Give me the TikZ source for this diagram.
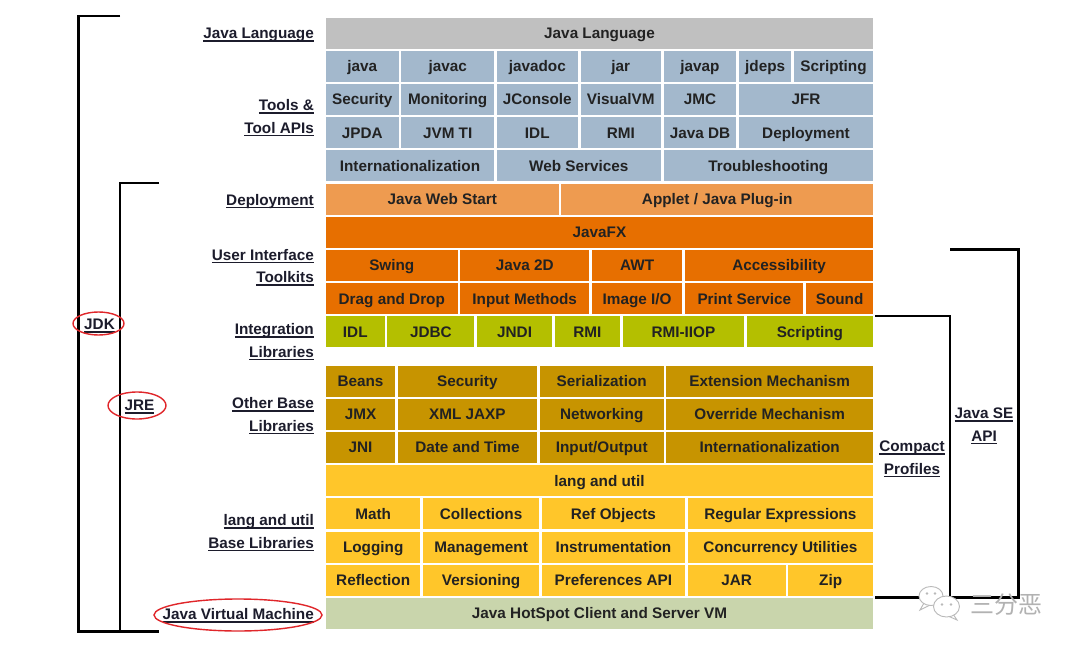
\documentclass[tikz,border=0pt]{standalone}
\usepackage{fontspec}
\setmainfont{Liberation Sans}
\newfontfamily\cjk{Noto Sans CJK SC}
\definecolor{jlang}{HTML}{C0C0C0}
\definecolor{tool}{HTML}{A3B8CC}
\definecolor{deploy}{HTML}{EE9B50}
\definecolor{fx}{HTML}{E76F00}
\definecolor{integ}{HTML}{B4BF00}
\definecolor{other}{HTML}{C79400}
\definecolor{langutil}{HTML}{FFC62A}
\definecolor{jvm}{HTML}{C9D5AC}
\definecolor{txt}{HTML}{222222}
\definecolor{lbl}{HTML}{1C1C2C}
\definecolor{ovalred}{HTML}{E0262A}
\newcommand\cellfont{\bfseries\fontsize{15.3}{18}\selectfont}
\newcommand\ulx[1]{\leavevmode\setbox0\hbox{#1}\rlap{\rule[-3pt]{\wd0}{1.3pt}}\box0}
\newcommand\cb[6]{\node[cell,fill=#4,minimum width={#2-#1}] (#5) at ({(#1+#2)/2},#3) {#6};}
\begin{document}
\begin{tikzpicture}[x=1pt,y=-1pt,
  cell/.style={inner sep=0pt,minimum height=31pt,text=txt,font=\cellfont,text height=11pt,text depth=0pt},
  lab/.style={anchor=east,inner sep=0pt,text=lbl,font=\cellfont,text height=11pt,text depth=0pt},
  clab/.style={inner sep=0pt,text=lbl,font=\cellfont,text height=11pt,text depth=0pt},
  brk/.style={line width=2.5pt,black},
  oval/.style={draw=ovalred,line width=1.4pt},
  wm/.style={draw=gray!55,fill=white,line width=0.9pt}]
\useasboundingbox (0,0) rectangle (1080,653);
\fill[white] (0,0) rectangle (1080,653);
% row 0
\cb{326}{873}{33}{jlang}{c00}{Java Language}
% row 1
\cb{326}{398.6}{66.2}{tool}{c10}{java}
\cb{401.4}{494}{66.2}{tool}{c11}{javac}
\cb{496.6}{578}{66.2}{tool}{c12}{javadoc}
\cb{580.6}{661}{66.2}{tool}{c13}{jar}
\cb{663.6}{736.4}{66.2}{tool}{c14}{javap}
\cb{739}{791.4}{66.2}{tool}{c15}{jdeps}
\cb{794}{873}{66.2}{tool}{c16}{Scripting}
% row 2
\cb{326}{398.6}{99.4}{tool}{c20}{Security}
\cb{401.4}{494}{99.4}{tool}{c21}{Monitoring}
\cb{496.6}{578}{99.4}{tool}{c22}{JConsole}
\cb{580.6}{661}{99.4}{tool}{c23}{VisualVM}
\cb{663.6}{736.4}{99.4}{tool}{c24}{JMC}
\cb{739}{873}{99.4}{tool}{c25}{JFR}
% row 3
\cb{326}{398.6}{132.6}{tool}{c30}{JPDA}
\cb{401.4}{494}{132.6}{tool}{c31}{JVM TI}
\cb{496.6}{578}{132.6}{tool}{c32}{IDL}
\cb{580.6}{661}{132.6}{tool}{c33}{RMI}
\cb{663.6}{736.4}{132.6}{tool}{c34}{Java DB}
\cb{739}{873}{132.6}{tool}{c35}{Deployment}
% row 4
\cb{326}{494}{165.8}{tool}{c40}{Internationalization}
\cb{496.6}{661}{165.8}{tool}{c41}{Web Services}
\cb{663.6}{873}{165.8}{tool}{c42}{Troubleshooting}
% row 5
\cb{326}{558.6}{199}{deploy}{c50}{Java Web Start}
\cb{561.4}{873}{199}{deploy}{c51}{Applet / Java Plug-in}
% row 6
\cb{326}{873}{232.2}{fx}{c60}{JavaFX}
% row 7
\cb{326}{457.6}{265.4}{fx}{c70}{Swing}
\cb{460.4}{589}{265.4}{fx}{c71}{Java 2D}
\cb{591.8}{682.4}{265.4}{fx}{c72}{AWT}
\cb{685.2}{873}{265.4}{fx}{c73}{Accessibility}
% row 8
\cb{326}{457.6}{298.6}{fx}{c80}{Drag and Drop}
\cb{460.4}{589}{298.6}{fx}{c81}{Input Methods}
\cb{591.8}{682.4}{298.6}{fx}{c82}{Image I/O}
\cb{685.2}{803.4}{298.6}{fx}{c83}{Print Service}
\cb{806.2}{873}{298.6}{fx}{c84}{Sound}
% row 9
\cb{326}{384.6}{331.8}{integ}{c90}{IDL}
\cb{387.4}{474.4}{331.8}{integ}{c91}{JDBC}
\cb{477.2}{552}{331.8}{integ}{c92}{JNDI}
\cb{554.8}{620}{331.8}{integ}{c93}{RMI}
\cb{622.8}{744}{331.8}{integ}{c94}{RMI-IIOP}
\cb{746.8}{873}{331.8}{integ}{c95}{Scripting}
% row 10
\cb{326}{395}{381}{other}{d00}{Beans}
\cb{397.8}{537}{381}{other}{d01}{Security}
\cb{539.8}{663.6}{381}{other}{d02}{Serialization}
\cb{666.4}{873}{381}{other}{d03}{Extension Mechanism}
% row 11
\cb{326}{395}{414.2}{other}{d10}{JMX}
\cb{397.8}{537}{414.2}{other}{d11}{XML JAXP}
\cb{539.8}{663.6}{414.2}{other}{d12}{Networking}
\cb{666.4}{873}{414.2}{other}{d13}{Override Mechanism}
% row 12
\cb{326}{395}{447.4}{other}{d20}{JNI}
\cb{397.8}{537}{447.4}{other}{d21}{Date and Time}
\cb{539.8}{663.6}{447.4}{other}{d22}{Input/Output}
\cb{666.4}{873}{447.4}{other}{d23}{Internationalization}
% row 13
\cb{326}{873}{480.6}{langutil}{d30}{lang and util}
% row 14
\cb{326}{420.4}{513.8}{langutil}{d40}{Math}
\cb{423.2}{539}{513.8}{langutil}{d41}{Collections}
\cb{541.8}{685}{513.8}{langutil}{d42}{Ref Objects}
\cb{687.8}{873}{513.8}{langutil}{d43}{Regular Expressions}
% row 15
\cb{326}{420.4}{547}{langutil}{d50}{Logging}
\cb{423.2}{539}{547}{langutil}{d51}{Management}
\cb{541.8}{685}{547}{langutil}{d52}{Instrumentation}
\cb{687.8}{873}{547}{langutil}{d53}{Concurrency Utilities}
% row 16
\cb{326}{420.4}{580.2}{langutil}{d60}{Reflection}
\cb{423.2}{539}{580.2}{langutil}{d61}{Versioning}
\cb{541.8}{685}{580.2}{langutil}{d62}{Preferences API}
\cb{687.8}{785.6}{580.2}{langutil}{d63}{JAR}
\cb{788.4}{873}{580.2}{langutil}{d64}{Zip}
% row 17
\cb{326}{873}{613.4}{jvm}{d70}{Java HotSpot Client and Server VM}
% left labels
\node[lab] (l1) at (314,33) {\ulx{Java Language}};
\node[lab] (l2a) at (314,105) {\ulx{Tools \&}};
\node[lab] (l2b) at (314,127.5) {\ulx{Tool APIs}};
\node[lab] (l3) at (314,199.5) {\ulx{Deployment}};
\node[lab] (l4a) at (314,254.5) {\ulx{User Interface}};
\node[lab] (l4b) at (314,277) {\ulx{Toolkits}};
\node[lab] (l5a) at (314,329) {\ulx{Integration}};
\node[lab] (l5b) at (314,351.5) {\ulx{Libraries}};
\node[lab] (l6a) at (314,403) {\ulx{Other Base}};
\node[lab] (l6b) at (314,425.5) {\ulx{Libraries}};
\node[lab] (l7a) at (314,520) {\ulx{lang and util}};
\node[lab] (l7b) at (314,542.5) {\ulx{Base Libraries}};
\node[lab] (l8) at (314,614) {\ulx{Java Virtual Machine}};
% JDK / JRE
\node[clab] (jdk) at (99.5,324) {\ulx{JDK}};
\node[clab] (jre) at (139.5,405) {\ulx{JRE}};
% right labels
\node[clab] (cp1) at (912,446) {\ulx{Compact}};
\node[clab] (cp2) at (912,468.5) {\ulx{Profiles}};
\node[clab] (se1) at (984,413) {\ulx{Java SE}};
\node[clab] (se2) at (984,435.5) {\ulx{API}};
% brackets
\coordinate (jdkT) at (120,16);
\coordinate (jdkB) at (159,631.5);
\coordinate (jreT) at (159,183);
\draw[brk] (jdkT) -- (78.5,16) -- (78.5,631.5) -- (jdkB);
\draw[brk] (jreT) -- (120,183) -- (120,631.5);
\coordinate (cpT) at (875,316);
\coordinate (cpB) at (875,597.5);
\coordinate (seT) at (950,249.5);
\draw[brk] (cpT) -- (950,316) -- (950,597.5) -- (cpB);
\draw[brk] (seT) -- (1018.5,249.5) -- (1018.5,597.5) -- (950,597.5);
% ovals
\draw[oval] (98.5,323.5) ellipse [x radius=25.5,y radius=11.5];
\draw[oval] (137,405.5) ellipse [x radius=29,y radius=13.5];
\draw[oval] (238,615) ellipse [x radius=84,y radius=16];
% watermark
\draw[wm] (924,603) -- (920,610) -- (930,605);
\draw[wm] (931,596) ellipse [x radius=12,y radius=9.5];
\fill[gray!55] (927,593.5) circle (1.3) (935,593.5) circle (1.3);
\draw[wm] (953,614) -- (957,620) -- (948,616);
\draw[wm] (946.5,606.5) ellipse [x radius=13,y radius=10.5];
\fill[gray!55] (942,604.5) circle (1.4) (951,604.5) circle (1.4);
\node[text=gray!60,font=\cjk\fontsize{24}{24}\selectfont,inner sep=0pt] (wmtext) at (1006,605) {三分恶};
\end{tikzpicture}
\end{document}
